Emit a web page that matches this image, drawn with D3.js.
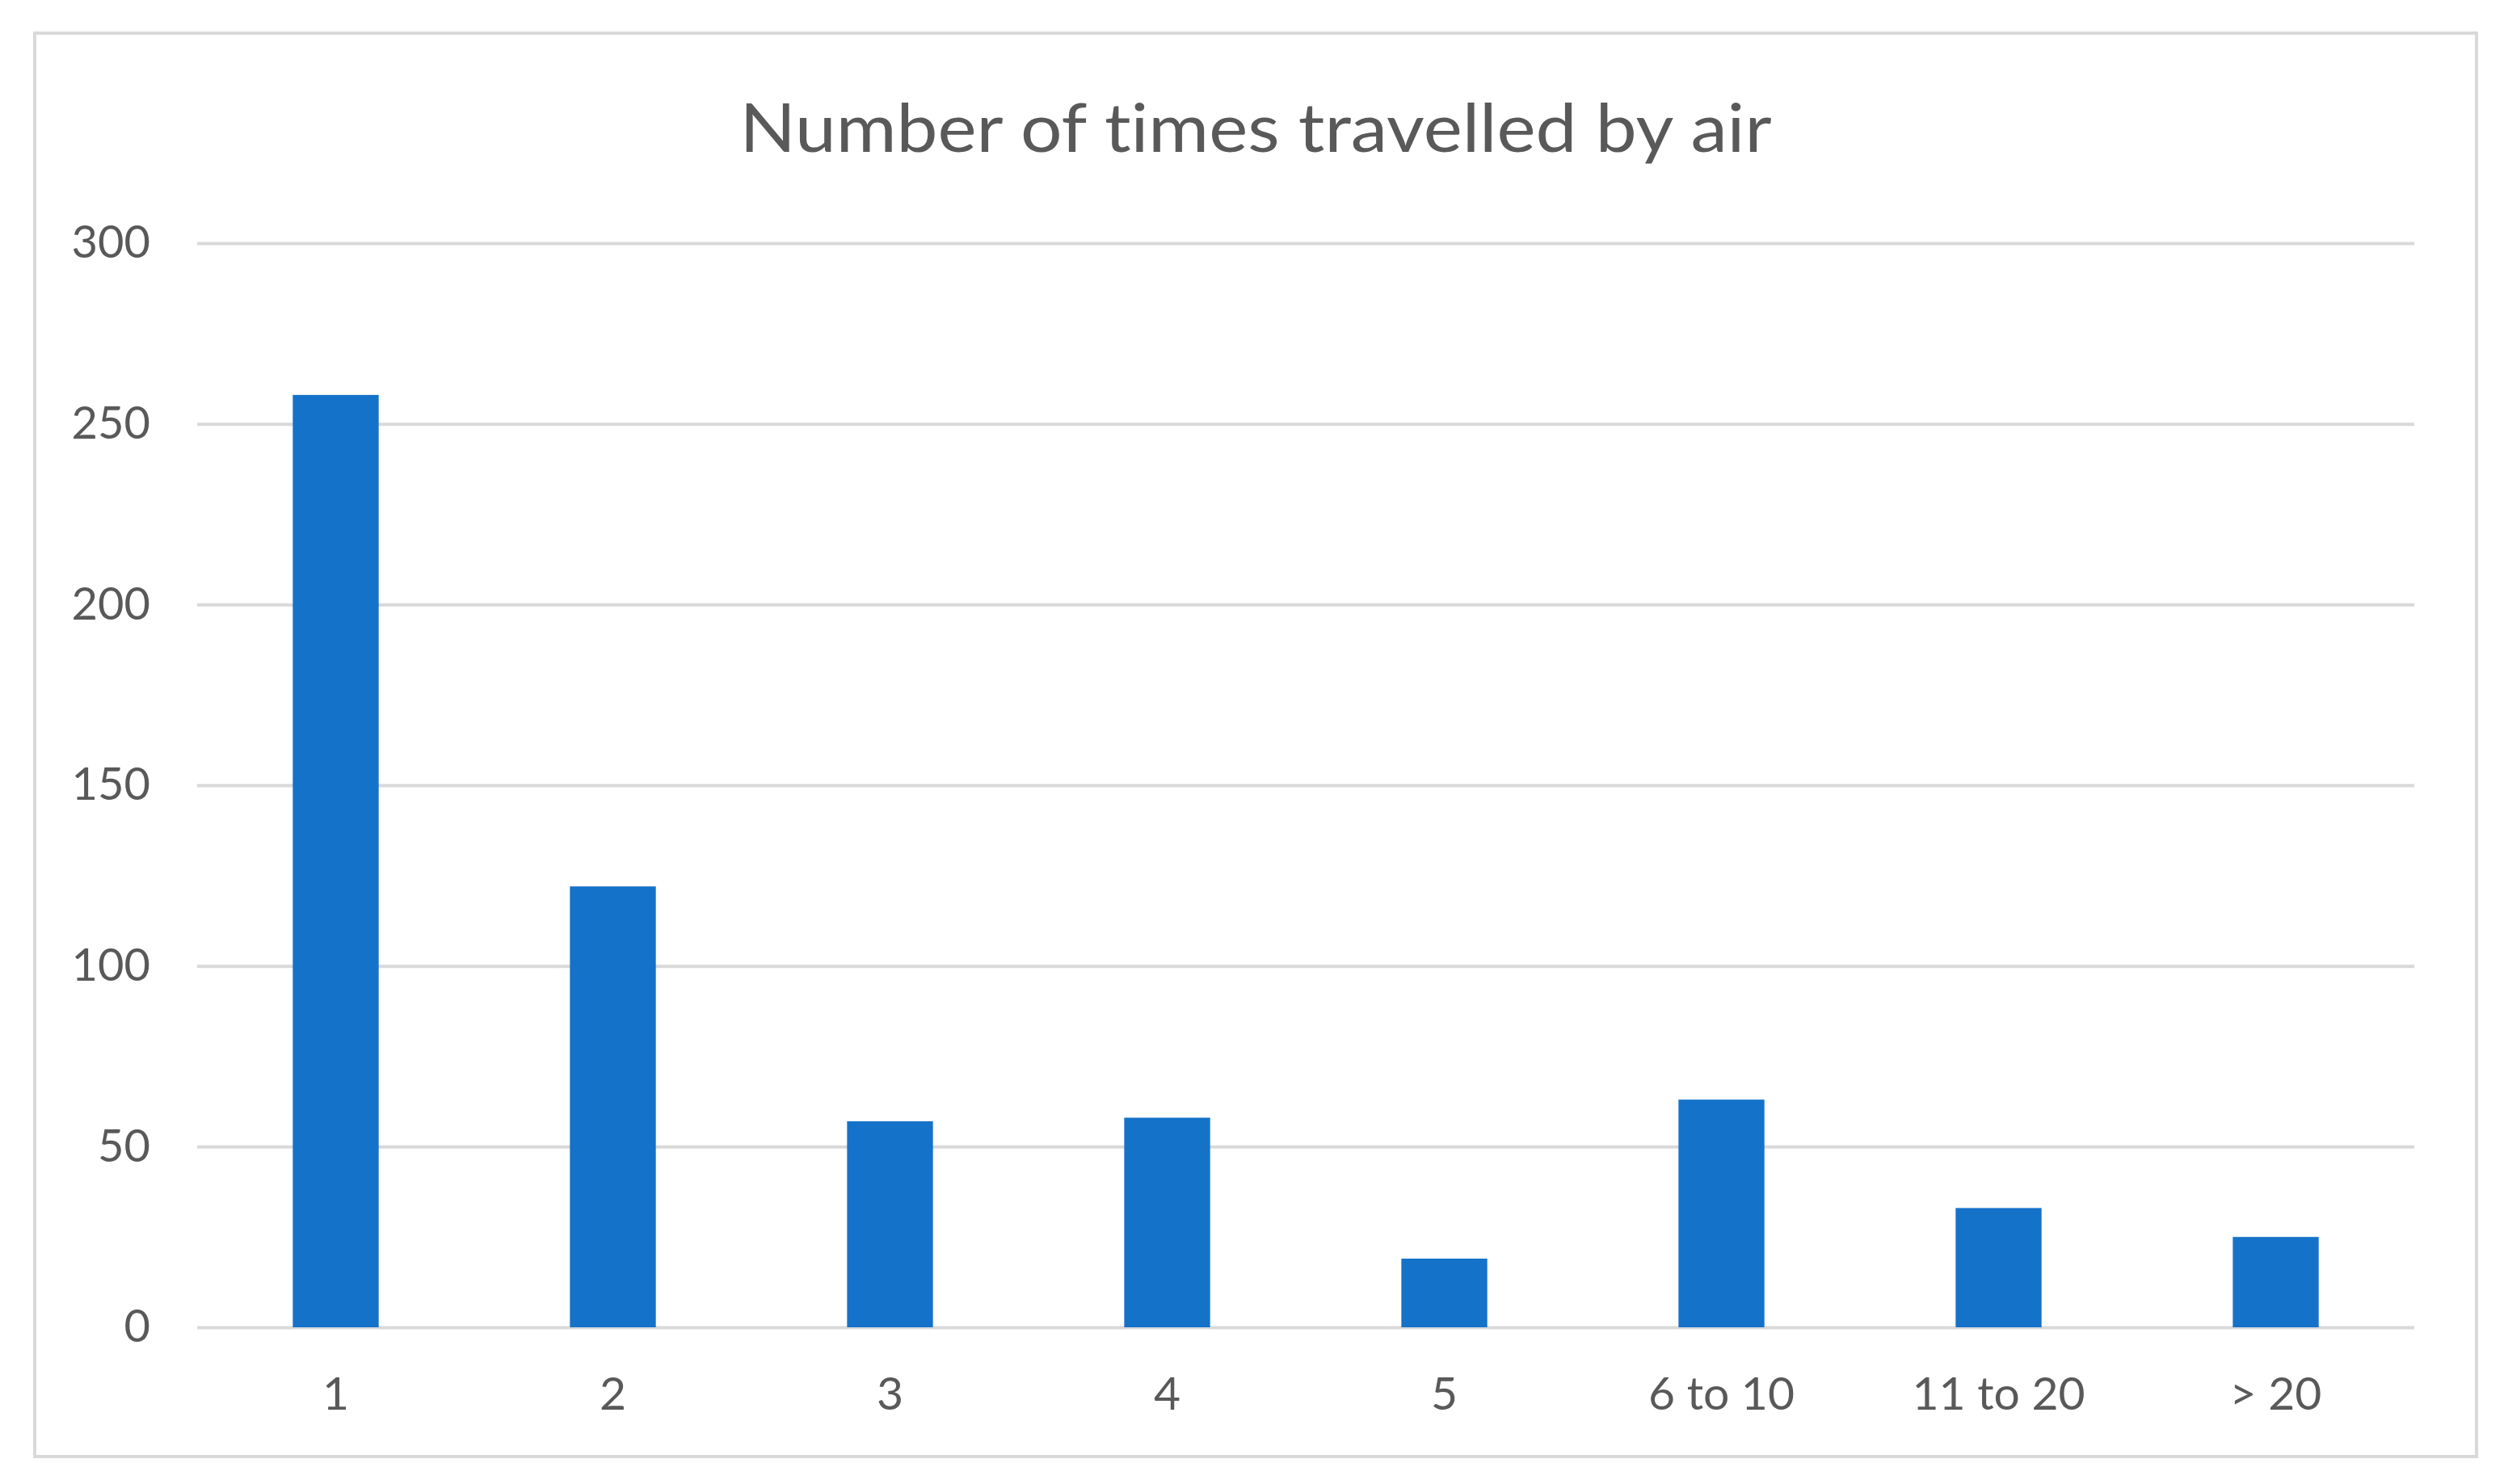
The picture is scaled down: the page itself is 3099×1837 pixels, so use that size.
<!DOCTYPE html>
<html>
<head>
<meta charset="utf-8">
<script src="https://cdn.jsdelivr.net/npm/d3@7"></script>
<style>
  body{ margin:0; background:#fff; }
  text{ font-family: Lato, "Open Sans", sans-serif; fill:#595959; font-variant-ligatures: none; }
</style>
</head>
<body>
<script>
(function(){
var categories = ['1', '2', '3', '4', '5', '6 to 10', '11 to 20', '> 20'],
    values = [258, 122, 57, 58, 19, 63, 33, 25],
    yTicks = [0, 50, 100, 150, 200, 250, 300],
    title = 'Number of times travelled by air';

var _width = 3099, _height = 1837,
    _left = 244, _right = 2988, _top = 301, _bottom = 1643,
    _svg, _x, _y,
  drawFrame = function(){
    _svg.append('rect')
      .attr('x', 43).attr('y', 41)
      .attr('width', 3022).attr('height', 1762)
      .attr('fill', '#fff')
      .attr('stroke', '#d9d9d9')
      .attr('stroke-width', 4);
    _svg.append('text')
      .attr('x', 1554).attr('y', 188)
      .attr('text-anchor', 'middle')
      .attr('font-size', 83)
      .attr('textLength', 1277)
      .attr('lengthAdjust', 'spacingAndGlyphs')
      .text(title);
  },
  drawAxes = function(){
    var gy = _svg.append('g')
      .attr('transform', 'translate(' + _left + ',0)')
      .call(d3.axisLeft(_y).tickValues(yTicks).tickSize(-(_right - _left)).tickPadding(58));
    gy.select('.domain').remove();
    gy.selectAll('line').attr('stroke', '#d9d9d9').attr('stroke-width', 4);
    gy.selectAll('text').attr('font-size', 56).style('fill', '#595959');

    var gx = _svg.append('g')
      .attr('transform', 'translate(0,' + _bottom + ')')
      .call(d3.axisBottom(_x).tickSize(0).tickPadding(62));
    gx.select('.domain').remove();
    gx.selectAll('text').attr('font-size', 57).style('fill', '#595959');
  },
  drawBars = function(){
    var bw = _x.bandwidth() * 0.31;
    _svg.append('g').selectAll('rect')
      .data(values)
      .enter().append('rect')
      .attr('x', function(d, i){ return _x(categories[i]) + (_x.bandwidth() - bw) / 2; })
      .attr('y', function(d){ return _y(d); })
      .attr('width', bw)
      .attr('height', function(d){ return _y(0) - _y(d); })
      .attr('fill', '#1572c9');
  },
  setup = function(){
    _svg = d3.select('body').append('svg')
      .attr('width', _width).attr('height', _height);
    _x = d3.scaleBand().domain(categories).range([_left, _right]).padding(0);
    _y = d3.scaleLinear().domain([0, 300]).range([_bottom, _top]);
    drawFrame();
    drawAxes();
    drawBars();
  };
setup();
})();
</script>
</body>
</html>
